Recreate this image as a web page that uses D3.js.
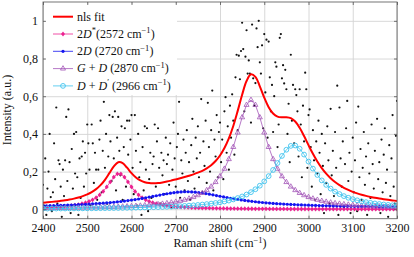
<!DOCTYPE html>
<html><head><meta charset="utf-8">
<script src="https://cdn.jsdelivr.net/npm/d3@7"></script>
<style>body{margin:0;background:#fff}</style>
</head><body><svg id="c" width="414" height="257"></svg>
<script>
const xTicks = [2400,2500,2600,2700,2800,2900,3000,3100,3200];
const yTicks = [0,0.2,0.4,0.6,0.8,1];
const yTickLabels = ["0","0,2","0,4","0,6","0,8","1"];

const noisyData = [
[2400,0.13],[2402.5,0.02],[2405,0.27],[2407.5,-0.03],[2410,0.11],[2412.5,0.20],[2415,0.40],[2417.5,0.065],[2420,-0.01],[2422.5,0.09],
[2425,0.35],[2427.5,0.16],[2430,0.54],[2432.5,0.03],[2435,0.26],[2437.5,0.24],[2440,0.12],[2442.5,-0.04],[2445,0.21],[2447.5,0.07],
[2450,0.26],[2452.5,0.49],[2455,0.15],[2457.5,0.53],[2460,0.25],[2462.5,-0.02],[2465,0.32],[2467.5,0.11],[2470,0.40],[2472.5,0.19],
[2475,0.41],[2477.5,0.17],[2480,-0.03],[2482.5,0.27],[2485,0.06],[2487.5,0.28],[2490,0.36],[2492.5,0.12],[2495,0.30],[2497.5,0.19],
[2500,0.45],[2502.5,0.35],[2505,0.21],[2507.5,0.02],[2510,0.45],[2512.5,0.35],[2515,0.14],[2517.5,0.30],[2520,0.21],[2522.5,0.05],
[2525,0.21],[2527.5,0.37],[2530,0.47],[2532.5,0.09],[2535,0.31],[2537.5,0.57],[2540,0.22],[2542.5,0.40],[2545,0.03],[2547.5,0.28],
[2550,0.50],[2552.5,0.36],[2555,0.15],[2557.5,0.49],[2560,0.27],[2562.5,0.52],[2565,0.10],[2567.5,0.38],[2570,0.49],[2572.5,0.31],
[2575,0.18],[2577.5,0.44],[2580,0.05],[2582.5,0.33],[2585,0.43],[2587.5,0.12],[2590,0.47],[2592.5,0.29],[2595,0.47],[2597.5,0.37],
[2600,0.50],[2602.5,0.22],[2605,0.08],[2607.5,0.50],[2610,0.31],[2612.5,0.02],[2615,0.40],[2617.5,0.17],[2620,0.25],[2622.5,-0.03],
[2625,0.33],[2627.5,0.10],[2630,0.44],[2632.5,0.21],[2635,0.43],[2637.5,-0.01],[2640,0.16],[2642.5,0.30],[2645,0.06],[2647.5,0.24],
[2650,0.28],[2652.5,0.45],[2655,0.12],[2657.5,0.36],[2660,0.43],[2662.5,0.22],[2665,0.03],[2667.5,0.30],[2670,0.18],[2672.5,0.26],
[2675,0.08],[2677.5,0.38],[2680,0.24],[2682.5,0.29],[2685,0.13],[2687.5,0.35],[2690,0.01],[2692.5,0.21],[2695,0.46],[2697.5,0.27],
[2700,0.12],[2702.5,0.33],[2705,0.40],[2707.5,0.57],[2710,0.06],[2712.5,0.26],[2715,0.19],[2717.5,0.37],[2720,0.10],[2722.5,0.30],
[2725,0.42],[2727.5,0.15],[2730,0.25],[2732.5,0.05],[2735,0.34],[2737.5,0.48],[2740,0.20],[2742.5,0.11],[2745,0.38],[2747.5,0.27],
[2750,0.44],[2752.5,0.17],[2755,0.30],[2757.5,0.585],[2760,0.09],[2762.5,0.36],[2765,0.23],[2767.5,0.47],[2770,0.14],[2772.5,0.565],
[2775,0.33],[2777.5,0.20],[2780,0.42],[2782.5,0.63],[2785,0.10],[2787.5,0.37],[2790,0.28],[2792.5,0.50],[2795,0.17],[2797.5,0.41],
[2800,0.46],[2802.5,0.25],[2805,0.37],[2807.5,0.16],[2810,0.52],[2812.5,0.595],[2815,0.30],[2817.5,0.44],[2820,0.21],[2822.5,0.55],
[2825,0.38],[2827.5,0.61],[2830,0.47],[2832.5,0.29],[2835,0.70],[2837.5,0.82],[2840,0.42],[2842.5,0.815],[2845,0.69],[2847.5,0.84],
[2850,0.99],[2852.5,0.85],[2855,0.52],[2857.5,0.81],[2860,0.95],[2862.5,0.72],[2865,0.79],[2867.5,0.72],[2870,0.46],[2872.5,0.98],
[2875,0.695],[2877.5,0.55],[2880,0.67],[2882.5,0.96],[2885,0.86],[2887.5,1.0],[2890,0.78],[2892.5,0.72],[2895,0.87],[2897.5,0.43],
[2900,0.93],[2902.5,0.62],[2905,0.90],[2907.5,0.38],[2910,0.89],[2912.5,0.70],[2915,0.52],[2917.5,0.66],[2920,0.41],[2922.5,0.60],
[2925,0.78],[2927.5,0.757],[2930,0.33],[2932.5,0.45],[2935,0.91],[2937.5,0.93],[2940,0.695],[2942.5,0.765],[2945,0.668],[2947.5,0.74],
[2950,0.637],[2952.5,0.40],[2955,0.56],[2957.5,0.25],[2960,0.82],[2962.5,0.47],[2965,0.66],[2967.5,0.35],[2970,0.637],[2972.5,0.606],
[2975,0.52],[2977.5,0.28],[2980,0.637],[2982.5,0.45],[2985,0.17],[2987.5,0.55],[2990,0.36],[2992.5,0.725],[2995,0.637],[2997.5,0.22],
[3000,0.50],[3002.5,0.53],[3005,0.33],[3007.5,0.12],[3010,0.42],[3012.5,0.26],[3015,0.05],[3017.5,0.36],[3020,0.19],[3022.5,0.47],
[3025,0.30],[3027.5,0.08],[3030,0.40],[3032.5,0.23],[3035,-0.02],[3037.5,0.35],[3040,0.14],[3042.5,0.44],[3045,0.26],[3047.5,0.03],
[3050,0.533],[3052.5,0.18],[3055,0.31],[3057.5,0.07],[3060,0.41],[3062.5,0.22],[3065,0.656],[3067.5,-0.03],[3070,0.54],[3072.5,0.27],
[3075,0.12],[3077.5,0.36],[3080,0.01],[3082.5,0.24],[3085,0.43],[3087.5,0.575],[3090,0.15],[3092.5,0.30],[3095,-0.02],[3097.5,0.20],
[3100,0.38],[3102.5,0.09],[3105,0.26],[3107.5,0.46],[3110,-0.01],[3112.5,0.545],[3115,0.17],[3117.5,0.32],[3120,0.05],[3122.5,0.22],
[3125,0.41],[3127.5,0.13],[3130,0.28],[3132.5,-0.03],[3135,0.35],[3137.5,0.19],[3140,0.06],[3142.5,0.45],[3145,0.24],[3147.5,0.11],
[3150,0.31],[3152.5,0.02],[3155,0.48],[3157.5,0.16],[3160,0.25],[3162.5,-0.02],[3165,0.37],[3167.5,0.09],[3170,0.29],[3172.5,0.43],
[3175,0.14],[3177.5,0.21],[3180,-0.04],[3182.5,0.34],[3185,0.07],[3187.5,0.27],[3190,0.50],[3192.5,0.12],[3195,0.03],[3197.5,0.39],
[3200,0.575]
];

const grid8 = [2400,2408,2416,2424,2432,2440,2448,2456,2464,2472,2480,2488,2496,2504,2512,2520,2528,2536,2544,2552,2560,2568,2576,2584,2592,2600,2608,2616,2624,2632,2640,2648,2656,2664,2672,2680,2688,2696,2704,2712,2720,2728,2736,2744,2752,2760,2768,2776,2784,2792,2800,2808,2816,2824,2832,2840,2848,2856,2864,2872,2880,2888,2896,2904,2912,2920,2928,2936,2944,2952,2960,2968,2976,2984,2992,3000,3008,3016,3024,3032,3040,3048,3056,3064,3072,3080,3088,3096,3104,3112,3120,3128,3136,3144,3152,3160,3168,3176,3184,3192,3200];
const grid10 = [2400,2410,2420,2430,2440,2450,2460,2470,2480,2490,2500,2510,2520,2530,2540,2550,2560,2570,2580,2590,2600,2610,2620,2630,2640,2650,2660,2670,2680,2690,2700,2710,2720,2730,2740,2750,2760,2770,2780,2790,2800,2810,2820,2830,2840,2850,2860,2870,2880,2890,2900,2910,2920,2930,2940,2950,2960,2970,2980,2990,3000,3010,3020,3030,3040,3050,3060,3070,3080,3090,3100,3110,3120,3130,3140,3150,3160,3170,3180,3190,3200];

const fitY = [0.0352,0.0371,0.0393,0.0418,0.0447,0.0479,0.0519,0.0566,0.0624,0.0697,
0.0788,0.0908,0.1068,0.1281,0.1565,0.1918,0.2277,0.2497,0.2454,0.2206,
0.1919,0.1686,0.1528,0.1434,0.1389,0.1379,0.1393,0.1426,0.1470,0.1525,
0.1585,0.1647,0.1713,0.1782,0.1855,0.1942,0.2043,0.2173,0.2340,0.2561,
0.2856,0.3249,0.3763,0.4423,0.5221,0.6077,0.6805,0.7162,0.7026,0.6527,
0.5926,0.5416,0.5079,0.4918,0.4880,0.4886,0.4837,0.4657,0.4325,0.3885,
0.3404,0.2944,0.2533,0.2182,0.1889,0.1647,0.1445,0.1280,0.1141,0.1025,
0.0927,0.0844,0.0772,0.0711,0.0658,0.0609,0.0568,0.0532,0.0500,0.0470,0.0444];

const pinkY = [0.0080,0.0087,0.0096,0.0106,0.0118,0.0132,0.0148,0.0167,0.0190,0.0218,
0.0252,0.0295,0.0348,0.0416,0.0503,0.0616,0.0762,0.0950,0.1184,0.1452,
0.1710,0.1877,0.1877,0.1710,0.1452,0.1184,0.0950,0.0762,0.0616,0.0503,
0.0416,0.0348,0.0295,0.0252,0.0218,0.0190,0.0167,0.0148,0.0132,0.0118,
0.0106,0.0096,0.0087,0.0080,0.0073,0.0067,0.0062,0.0057,0.0053,0.0050,
0.0046,0.0043,0.0040,0.0038,0.0036,0.0034,0.0032,0.0030,0.0028,0.0027,
0.0026,0.0024,0.0023,0.0022,0.0021,0.0020,0.0019,0.0018,0.0018,0.0017,
0.0016,0.0016,0.0015,0.0014,0.0014,0.0013,0.0013,0.0012,0.0012,0.0012,
0.0011,0.0011,0.0010,0.0010,0.0010,0.0009,0.0009,0.0009,0.0009,0.0008,
0.0008,0.0008,0.0008,0.0007,0.0007,0.0007,0.0007,0.0007,0.0007,0.0006,0.0006];

const blueY = [0.0182,0.0187,0.0191,0.0197,0.0202,0.0208,0.0214,0.0221,0.0228,0.0236,
0.0244,0.0253,0.0263,0.0274,0.0285,0.0297,0.0310,0.0324,0.0340,0.0356,
0.0374,0.0393,0.0414,0.0437,0.0461,0.0488,0.0516,0.0546,0.0578,0.0611,
0.0646,0.0682,0.0719,0.0756,0.0791,0.0825,0.0856,0.0883,0.0905,0.0920,
0.0929,0.0930,0.0923,0.0909,0.0889,0.0863,0.0833,0.0800,0.0765,0.0728,
0.0691,0.0655,0.0620,0.0586,0.0554,0.0523,0.0494,0.0468,0.0443,0.0420,
0.0399,0.0379,0.0360,0.0344,0.0328,0.0313,0.0300,0.0288,0.0276,0.0266,
0.0256,0.0247,0.0238,0.0230,0.0223,0.0216,0.0210,0.0204,0.0198,0.0193,
0.0188,0.0183,0.0179,0.0175,0.0171,0.0167,0.0164,0.0160,0.0157,0.0155,
0.0152,0.0149,0.0147,0.0144,0.0142,0.0140,0.0138,0.0136,0.0134,0.0133,0.0131];

const purpleY = [0.0055,0.0057,0.0060,0.0063,0.0066,0.0069,0.0072,0.0076,0.0080,0.0084,
0.0088,0.0093,0.0098,0.0104,0.0110,0.0117,0.0125,0.0133,0.0142,0.0152,
0.0164,0.0176,0.0190,0.0206,0.0223,0.0243,0.0266,0.0291,0.0321,0.0356,
0.0396,0.0443,0.0499,0.0565,0.0645,0.0743,0.0863,0.1013,0.1201,0.1441,
0.1749,0.2147,0.2659,0.3303,0.4070,0.4878,0.5538,0.5800,0.5538,0.4878,
0.4070,0.3303,0.2659,0.2147,0.1749,0.1441,0.1201,0.1013,0.0863,0.0743,
0.0645,0.0565,0.0499,0.0443,0.0396,0.0356,0.0321,0.0291,0.0266,0.0243,
0.0223,0.0206,0.0190,0.0176,0.0164,0.0152,0.0142,0.0133,0.0125,0.0117,0.0110];

const cyanY = [0.0035,0.0037,0.0038,0.0039,0.0041,0.0042,0.0044,0.0046,0.0048,0.0050,
0.0052,0.0054,0.0057,0.0059,0.0062,0.0065,0.0068,0.0071,0.0075,0.0079,
0.0083,0.0088,0.0093,0.0098,0.0104,0.0111,0.0118,0.0126,0.0134,0.0144,
0.0155,0.0166,0.0179,0.0194,0.0210,0.0229,0.0250,0.0274,0.0301,0.0333,
0.0370,0.0413,0.0463,0.0523,0.0594,0.0680,0.0783,0.0909,0.1063,0.1251,
0.1481,0.1760,0.2087,0.2455,0.2831,0.3160,0.3364,0.3384,0.3213,0.2903,
0.2530,0.2158,0.1821,0.1533,0.1294,0.1098,0.0937,0.0807,0.0699,0.0610,
0.0536,0.0475,0.0422,0.0378,0.0340,0.0307,0.0279,0.0254,0.0233,0.0214,0.0197];

const svg = d3.select("#c");
const W = 414, H = 257;
const x = d3.scaleLinear().domain([2400,3200]).range([43,397]);
const y = d3.scaleLinear().domain([-0.05,1.1]).range([218.7,2]);
const L = x.range()[0], R = x.range()[1], B = y.range()[0], T = y.range()[1];
const setFont = (s, size) => s.style("font-family", "'Liberation Serif'").style("font-size", size + "px");

svg.append("rect").attr("width",W).attr("height",H).attr("fill","#fff");
svg.append("defs").append("clipPath").attr("id","clip")
  .append("rect").attr("x",L).attr("y",T).attr("width",R-L).attr("height",B-T);

// grid
svg.append("g").attr("transform",`translate(0,${B})`)
  .call(d3.axisBottom(x).tickValues(xTicks).tickSize(-(B-T)).tickFormat(""))
  .call(g=>{g.select(".domain").remove(); g.selectAll("line").attr("stroke","#d4d4d4").attr("stroke-width",0.9);});
svg.append("g").attr("transform",`translate(${L},0)`)
  .call(d3.axisLeft(y).tickValues(yTicks).tickSize(-(R-L)).tickFormat(""))
  .call(g=>{g.select(".domain").remove(); g.selectAll("line").attr("stroke","#d4d4d4").attr("stroke-width",0.9);});

const plot = svg.append("g").attr("clip-path","url(#clip)");

plot.append("g").selectAll("circle").data(noisyData).join("circle")
  .attr("cx",d=>x(d[0])).attr("cy",d=>y(d[1])).attr("r",1.1).attr("fill","#111");

const smooth = d3.line().x(d=>x(d[0])).y(d=>y(d[1])).curve(d3.curveCatmullRom);
const straight = d3.line().x(d=>x(d[0])).y(d=>y(d[1]));
plot.append("path").datum(d3.zip(grid10, fitY)).attr("d",smooth)
  .attr("fill","none").attr("stroke","#ff0000").attr("stroke-width",2);

const PINK = "#ec2191", BLUE = "#1414f0", PURPLE = "#a355b8", CYAN = "#3ec3ee";
const diamond = "M0,-2.4L2,0L0,2.4L-2,0Z";
const tri = d3.symbol().type(d3.symbolTriangle).size(11)();

function comp(xs, ys, color, marker){
  const data = d3.zip(xs, ys);
  const g = plot.append("g");
  g.append("path").datum(data).attr("d",straight).attr("fill","none").attr("stroke",color).attr("stroke-width",0.8);
  const m = g.selectAll("g").data(data).join("g").attr("transform",d=>`translate(${x(d[0])},${y(d[1])})`);
  marker(m, color);
}
const mkDiamond = (s,c)=>s.append("path").attr("d",diamond).attr("fill",c);
const mkDot = (s,c)=>s.append("circle").attr("r",1.6).attr("fill",c);
const mkTri = (s,c)=>s.append("path").attr("d",tri).attr("fill","none").attr("stroke",c).attr("stroke-width",0.8);
const mkCirc = (s,c)=>s.append("circle").attr("r",2.4).attr("fill","none").attr("stroke",c).attr("stroke-width",0.9);

comp(grid8, pinkY, PINK, mkDiamond);
comp(grid8, blueY, BLUE, mkDot);
comp(grid10, purpleY, PURPLE, mkTri);
comp(grid10, cyanY, CYAN, mkCirc);

// legend
const lg = svg.append("g");
lg.append("rect").attr("x",45).attr("y",4).attr("width",132).attr("height",91).attr("fill","#fff");
const entries = [
  {color:"#ff0000", w:2, marker:null, parts:[["nls fit"]]},
  {color:PINK, w:0.8, marker:mkDiamond, parts:[["2"],["D","i"],["*","s"],["(2572 cm"],["\u22121","s"],[")"]]},
  {color:BLUE, w:0.8, marker:mkDot, parts:[["2"],["D","i"],[" (2720 cm"],["\u22121","s"],[")"]]},
  {color:PURPLE, w:0.8, marker:mkTri, parts:[["G","i"],[" + "],["D","i"],[" (2870 cm"],["\u22121","s"],[")"]]},
  {color:CYAN, w:0.8, marker:mkCirc, parts:[["D","i"],[" + "],["D","i"],["\u2032","s"],[" (2966 cm"],["\u22121","s"],[")"]]}
];
entries.forEach((e,i)=>{
  const cy = 16.7 + i*17.3;
  lg.append("line").attr("x1",53).attr("x2",73).attr("y1",cy).attr("y2",cy).attr("stroke",e.color).attr("stroke-width",e.w);
  if(e.marker){ e.marker(lg.append("g").attr("transform",`translate(63,${cy})`), e.color); }
  const t = lg.append("text").attr("x",77).attr("y",cy+3.8).attr("fill","#111");
  setFont(t, 12);
  let sup = false;
  e.parts.forEach(p=>{
    const ts = t.append("tspan").text(p[0]);
    if(p[1]==="i") ts.style("font-style","italic");
    if(p[1]==="s"){ ts.style("font-size","8.5px"); if(!sup){ts.attr("dy",-4.5); sup=true;} }
    else if(sup){ ts.attr("dy",4.5); sup=false; }
  });
});

// frame
svg.append("rect").attr("x",L).attr("y",T).attr("width",R-L).attr("height",B-T)
  .attr("fill","none").attr("stroke","#666").attr("stroke-width",0.9);

const tickStyle = g=>{g.select(".domain").remove(); g.selectAll("line").attr("stroke","#555").attr("stroke-width",0.8);};
svg.append("g").attr("transform",`translate(0,${B})`).call(d3.axisBottom(x).tickValues(xTicks).tickSize(-3).tickFormat("")).call(tickStyle);
svg.append("g").attr("transform",`translate(0,${T})`).call(d3.axisTop(x).tickValues(xTicks).tickSize(-3).tickFormat("")).call(tickStyle);
svg.append("g").attr("transform",`translate(${L},0)`).call(d3.axisLeft(y).tickValues(yTicks).tickSize(-3).tickFormat("")).call(tickStyle);
svg.append("g").attr("transform",`translate(${R},0)`).call(d3.axisRight(y).tickValues(yTicks).tickSize(-3).tickFormat("")).call(tickStyle);

svg.append("g").attr("transform",`translate(0,${B})`)
  .call(d3.axisBottom(x).tickValues(xTicks).tickSize(0).tickPadding(5).tickFormat(d3.format("d")))
  .call(g=>{g.select(".domain").remove(); setFont(g.selectAll("text"), 12).attr("fill","#111");});
svg.append("g").attr("transform",`translate(${L},0)`)
  .call(d3.axisLeft(y).tickValues(yTicks).tickSize(0).tickPadding(5).tickFormat((d,i)=>yTickLabels[i]))
  .call(g=>{g.select(".domain").remove(); setFont(g.selectAll("text"), 12).attr("fill","#111");});

const xt = svg.append("text").attr("x",(L+R)/2).attr("y",247).attr("text-anchor","middle").attr("fill","#111");
setFont(xt, 12);
xt.append("tspan").text("Raman shift (cm");
xt.append("tspan").text("\u22121").style("font-size","8.5px").attr("dy",-4.5);
xt.append("tspan").text(")").attr("dy",4.5);
const yt = svg.append("text").attr("transform","translate(11,110) rotate(-90)").attr("text-anchor","middle").attr("fill","#111").text("Intensity (a.u.)");
setFont(yt, 12);
</script></body></html>
